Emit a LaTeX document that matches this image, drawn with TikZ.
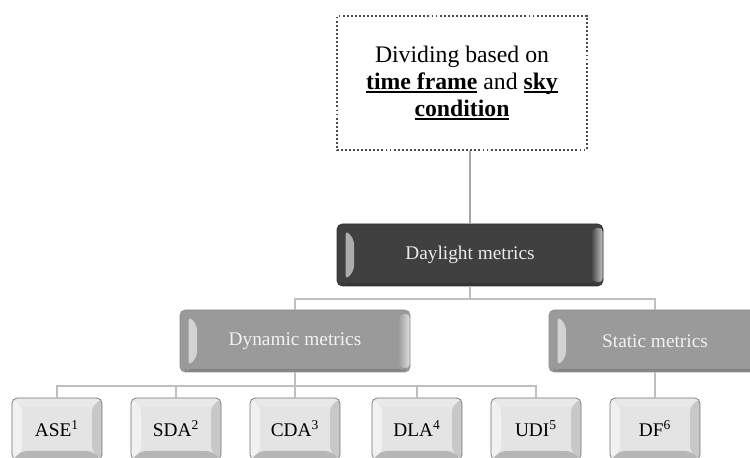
\documentclass[tikz,border=0pt]{standalone}
\usepackage{fontspec}
\setmainfont{Liberation Serif}
\usepackage{xcolor}
\usepackage{tikz}
\usetikzlibrary{calc,fadings}

\definecolor{darkface}{HTML}{404040}
\definecolor{midface}{HTML}{9A9A9A}
\definecolor{lightface}{HTML}{E4E4E4}
\definecolor{linkgray}{HTML}{BFBFBF}
\newcommand{\ulbold}[1]{\setbox0\hbox{\textbf{#1}}\rlap{\rule[-2.2pt]{\wd0}{1.1pt}}\box0\relax}

\begin{document}
\begin{tikzpicture}[
    bevel/.style 2 args={path picture={
        \fill[white,opacity=.5] (path picture bounding box.south west) -- (path picture bounding box.north west)
          -- ($(path picture bounding box.north west)+(#1,-#2)$) -- ($(path picture bounding box.south west)+(#1,#2)$) -- cycle;
        \fill[white,opacity=.2] (path picture bounding box.north west) -- (path picture bounding box.north east)
          -- ($(path picture bounding box.north east)+(-#1,-#2)$) -- ($(path picture bounding box.north west)+(#1,-#2)$) -- cycle;
        \fill[black,opacity=.12] (path picture bounding box.north east) -- (path picture bounding box.south east)
          -- ($(path picture bounding box.south east)+(-#1,#2)$) -- ($(path picture bounding box.north east)+(-#1,-#2)$) -- cycle;
        \fill[black,opacity=.2] (path picture bounding box.south west) -- (path picture bounding box.south east)
          -- ($(path picture bounding box.south east)+(-#1,#2)$) -- ($(path picture bounding box.south west)+(#1,#2)$) -- cycle;}},
    gloss/.style={path picture={
        \fill[white,opacity=.6,path fading=east] ($(path picture bounding box.south west)+(0.17,0.12)$)
          -- ($(path picture bounding box.north west)+(0.17,-0.12)$) -- ($(path picture bounding box.north west)+(0.34,-0.3)$)
          -- ($(path picture bounding box.south west)+(0.34,0.3)$) -- cycle;
        \fill[white,opacity=.7,path fading=west] ($(path picture bounding box.north east)+(-0.24,-0.1)$)
          -- ($(path picture bounding box.south east)+(-0.24,0.1)$) -- ($(path picture bounding box.south east)+(0,0.06)$)
          -- ($(path picture bounding box.north east)+(0,-0.06)$) -- cycle;
        \fill[black,opacity=.15] ($(path picture bounding box.south west)+(0.1,0)$) rectangle ($(path picture bounding box.south east)+(-0.1,0.06)$);}},
    box/.style={shape=rectangle, rounded corners=3pt, draw=black!55, inner sep=0pt, font=\fontsize{11}{13}\selectfont},
    topbox/.style={box, draw=black!80, fill=darkface, text=white!92!black, minimum width=5.32cm, minimum height=1.24cm, gloss},
    midbox/.style={box, draw=black!45, fill=midface, text=white!95!black, minimum width=4.6cm, minimum height=1.24cm, gloss},
    leaf/.style={box, fill=lightface, text=black, minimum width=1.8cm, minimum height=1.24cm, bevel={0.2cm}{0.18cm}},
    link/.style={draw=linkgray, line width=0.9pt}]
    \useasboundingbox (0,0) rectangle (15,9.16);

    % criterion box
    \node[draw=black!70, line width=1.1pt, dash pattern=on 1.1pt off 1.2pt, minimum width=5cm, minimum height=2.68cm,
      align=center, font=\fontsize{13.5}{15.5}\selectfont] (info) at (9.24,7.5)
      {Dividing based on\\ \ulbold{time frame} and \ulbold{sky}\\ \ulbold{condition}};

    \node[topbox] (daylight) at (9.4,4.06) {Daylight metrics};
    \node[midbox] (dynamic) at (5.9,2.34) {Dynamic metrics};
    \node[midbox, minimum width=4.24cm] (static) at (13.1,2.34) {Static metrics};

    \node[leaf] (ase) at (1.14,0.58) {ASE\textsuperscript{1}};
    \node[leaf] (sda) at (3.52,0.58) {SDA\textsuperscript{2}};
    \node[leaf] (cda) at (5.9,0.58) {CDA\textsuperscript{3}};
    \node[leaf] (dla) at (8.34,0.58) {DLA\textsuperscript{4}};
    \node[leaf] (udi) at (10.72,0.58) {UDI\textsuperscript{5}};
    \node[leaf] (df) at (13.1,0.58) {DF\textsuperscript{6}};

    \coordinate (bus1) at (0,3.18);
    \coordinate (bus2) at (0,1.44);

    \draw[draw=black!35, line width=1.4pt] (daylight.north) -- (daylight.north |- info.south);
    \draw[link] (daylight.south) -- (daylight.south |- bus1);
    \draw[link] (dynamic.north) |- (static.north |- bus1) -- (static.north);
    \draw[link] (dynamic.south) -- (dynamic.south |- bus2);
    \draw[link] (ase.north) |- (udi.north |- bus2) -- (udi.north);
    \foreach \n in {sda,cda,dla}
      \draw[link] (\n.north) -- (\n.north |- bus2);
    \draw[link] (static.south) -- (df.north);
  \end{tikzpicture}
\end{document}
